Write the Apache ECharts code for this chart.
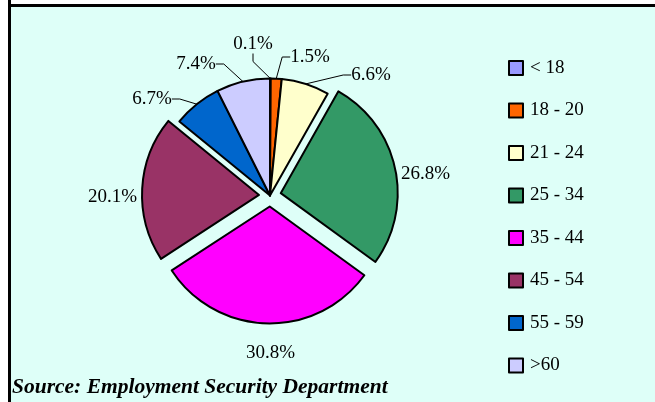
<!DOCTYPE html>
<html><head><meta charset="utf-8">
<script src="https://cdn.jsdelivr.net/npm/echarts@6/dist/echarts.min.js"></script>
<style>
html,body{margin:0;padding:0;background:#fff;overflow:hidden;}
#lineL{position:absolute;left:8px;top:0;width:3px;height:402px;background:#000;}
#lineT{position:absolute;left:8px;top:4px;width:647px;height:3px;background:#000;}
#fill{position:absolute;left:11px;top:7px;width:644px;height:395px;background:#DEFFF8;}
#chart{position:absolute;left:0;top:0;width:655px;height:402px;}
</style></head><body>
<div id="fill"></div><div id="lineL"></div><div id="lineT"></div><div id="chart"></div>
<script>
const categories = ['< 18', '18 - 20', '21 - 24', '25 - 34', '35 - 44', '45 - 54', '55 - 59', '>60'];
const values = [0.1, 1.5, 6.6, 26.8, 30.8, 20.1, 6.7, 7.4];
const sourceText = 'Source: Employment Security Department';

// styling (not data)
const colors = ['#9999FF', '#FF6600', '#FFFFCC', '#339966', '#FF00FF', '#993366', '#0066CC', '#CCCCFF'];
const exploded = [false, false, false, true, true, true, false, false];
const leader = [true, true, true, false, false, false, true, true];
// annotation text placement (Excel-style): anchor for leader-line labels
const labelAt = [[253, 44], [310, 57], [371, 75], null, null, null, [152, 99], [196, 64]];
// exploded-slice labels: [length, length2, padding, lineHeight]
const explodedLabel = [null, null, null,
  [0, 0, [0, 0, 0, 5], 12],
  [30, -30, 0, 0],
  [0, 0, [0, 4, 0, 0], 16],
  null, null];

const FONT = 'Liberation Serif';
const chart = echarts.init(document.getElementById('chart'), null, {renderer: 'canvas'});
const data = categories.map((c, i) => {
  const d = {
    name: c,
    value: values[i],
    selected: exploded[i],
    itemStyle: {color: colors[i]},
    labelLine: {show: leader[i]}
  };
  const e = explodedLabel[i];
  if (e) {
    d.labelLine.length = e[0];
    d.labelLine.length2 = e[1];
    d.label = {padding: e[2]};
    if (e[3]) d.label.lineHeight = e[3];
  }
  return d;
});
chart.setOption({
  backgroundColor: 'transparent',
  animation: false,
  title: {
    text: sourceText, left: 12, top: 376, padding: 0,
    textStyle: {fontFamily: FONT, fontStyle: 'italic', fontWeight: 'bold', fontSize: 21.5, color: '#000'}
  },
  legend: {
    orient: 'vertical', left: 508, top: 58, padding: 0,
    itemWidth: 14, itemHeight: 14, itemGap: 22.5, icon: 'rect',
    selectedMode: false,
    textStyle: {fontFamily: FONT, fontSize: 19, color: '#000', lineHeight: 20, padding: [0, 0, 0, 2]},
    itemStyle: {borderColor: '#000', borderWidth: 2}
  },
  series: [{
    type: 'pie',
    center: [270, 195.5],
    radius: 117,
    startAngle: 90,
    clockwise: true,
    selectedMode: 'multiple',
    selectedOffset: 11,
    silent: true,
    emphasis: {disabled: true},
    avoidLabelOverlap: false,
    itemStyle: {borderColor: '#000', borderWidth: 2},
    label: {
      show: true, position: 'outside',
      formatter: p => {
        const e = explodedLabel[p.dataIndex];
        return (e && e[3] ? '\n' : '') + p.value + '%';
      },
      fontFamily: FONT, fontSize: 19, color: '#000', distanceToLabelLine: 1
    },
    labelLine: {show: true, length: 8, length2: 8, lineStyle: {color: '#000', width: 1}},
    labelLayout: p => {
      const a = labelAt[p.dataIndex];
      if (!a) return {hideOverlap: false};
      return {x: a[0], y: a[1], align: 'center', verticalAlign: 'middle', hideOverlap: false};
    },
    data: data
  }]
});
</script></body></html>
